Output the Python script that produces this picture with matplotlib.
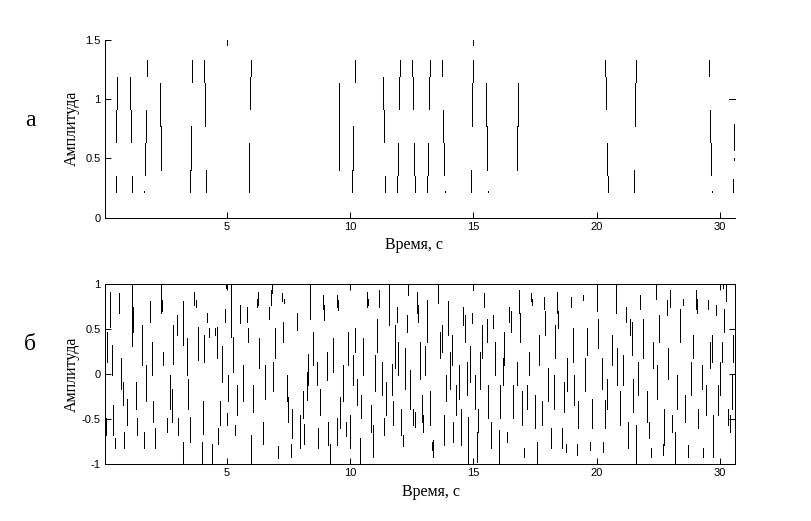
import matplotlib.pyplot as plt
import numpy as np

# top panel: vertical pulse segments (time, low, high)
top_t = [0.50, 0.52, 0.565, 1.09, 1.13, 1.17, 1.66, 1.70, 1.74, 1.78, 2.31, 2.35,
         3.51, 3.54, 3.57, 4.09, 4.13, 4.17, 5.0, 5.88, 5.92, 5.96, 6.0,
         9.53, 9.57, 10.09, 10.13, 10.19, 11.32, 11.37, 11.41,
         11.89, 11.93, 11.97, 12.01, 12.50, 12.54, 12.58, 12.62,
         13.11, 13.15, 13.19, 13.23, 13.72, 13.76, 13.80, 13.84,
         14.92, 14.96, 15.0, 15.0, 15.53, 15.57, 15.61, 16.75, 16.79,
         20.33, 20.37, 20.41, 20.45, 21.53, 21.57, 21.61,
         24.54, 24.59, 24.63, 24.67, 25.54, 25.56, 25.57, 25.59]
top_lo = [0.219, 0.640, 0.916, 0.916, 0.640, 0.219, 0.216, 0.360, 0.640, 1.196, 0.775, 0.402,
          0.219, 0.402, 1.146, 1.146, 0.775, 0.219, 1.455, 0.219, 0.360, 0.916, 1.196,
          0.775, 0.402, 0.219, 0.402, 1.146, 0.916, 0.640, 0.219,
          0.219, 0.360, 0.916, 1.196, 1.196, 0.916, 0.360, 0.219,
          0.219, 0.360, 0.916, 1.196, 1.196, 0.640, 0.360, 0.216,
          0.219, 0.775, 1.146, 1.455, 0.775, 0.402, 0.216, 0.402, 0.775,
          1.196, 0.916, 0.360, 0.219, 0.219, 0.775, 1.146,
          1.196, 0.640, 0.360, 0.216, 0.219, 0.490, 0.570, 0.795]
top_hi = [0.351, 0.907, 1.183, 1.183, 0.907, 0.351, 0.226, 0.627, 0.907, 1.329, 1.132, 0.773,
          0.402, 0.773, 1.329, 1.329, 1.132, 0.402, 1.497, 0.351, 0.627, 1.183, 1.329,
          1.132, 0.773, 0.402, 0.773, 1.329, 1.183, 0.907, 0.351,
          0.351, 0.627, 1.183, 1.329, 1.329, 1.183, 0.627, 0.351,
          0.351, 0.627, 1.183, 1.329, 1.329, 0.907, 0.627, 0.226,
          0.402, 1.132, 1.329, 1.497, 1.132, 0.773, 0.226, 0.773, 1.132,
          1.329, 1.183, 0.627, 0.351, 0.402, 1.132, 1.329,
          1.329, 0.907, 0.627, 0.226, 0.329, 0.500, 0.787, 1.020]

# bottom panel: dense segments (time, low, high)
bot_t = [0.10, 0.16, 0.27, 0.35, 0.40, 0.45, 0.63, 0.70, 0.78, 0.83, 0.94, 1.17, 1.21,
         1.31, 1.35, 1.55, 1.66, 1.72, 1.89, 1.95, 2.02, 2.09, 2.33, 2.37, 2.43, 2.56,
         2.70, 2.77, 2.81, 2.97, 3.04, 3.21, 3.24, 3.37, 3.44, 3.51, 3.68, 3.75, 3.82,
         3.98, 4.02, 4.09, 4.18, 4.28, 4.39, 4.52, 4.59, 4.66, 4.72, 4.79, 4.93, 4.97,
         4.99, 5.06, 5.17, 5.27, 5.35, 5.40, 5.54, 5.67, 5.81, 5.85, 5.98, 6.08, 6.21,
         6.28, 6.32, 6.48, 6.55, 6.71, 6.78, 6.82, 6.89, 6.95, 7.09, 7.23, 7.27, 7.32,
         7.43, 7.50, 7.59, 7.63, 7.83, 7.97, 8.08, 8.14, 8.24, 8.31, 8.37, 8.51, 8.64,
         8.71, 8.78, 8.89, 8.94, 9.05, 9.12, 9.18, 9.32, 9.45, 9.48, 9.52, 9.59, 9.70,
         9.82, 9.93, 9.99, 10.10, 10.20, 10.29, 10.40, 10.43, 10.54, 10.67, 10.71, 10.83,
         10.91, 11.01, 11.08, 11.18, 11.28, 11.37, 11.45, 11.59, 11.68, 11.72, 11.82,
         11.89, 11.95, 12.06, 12.13, 12.22, 12.29, 12.36, 12.43, 12.56, 12.63, 12.70,
         12.77, 12.83, 12.90, 12.97, 13.04, 13.10,
         13.25, 13.31, 13.38, 13.58, 13.65, 13.72, 13.79, 13.89, 13.99, 14.06, 14.12,
         14.19, 14.30, 14.43, 14.50, 14.57, 14.66, 14.73, 14.80, 14.87, 14.96, 15.00,
         15.07, 15.14, 15.20, 15.27, 15.34, 15.45, 15.54, 15.61, 15.70, 15.81, 15.88,
         16.02, 16.08, 16.19, 16.26, 16.35, 16.46, 16.52, 16.62, 16.76, 16.83, 16.89,
         16.96, 17.06, 17.16, 17.27, 17.34, 17.39, 17.50, 17.60, 17.68, 17.77, 17.88,
         17.91, 18.02, 18.14, 18.25, 18.31, 18.38, 18.45, 18.58, 18.68, 18.75, 18.79,
         18.95, 19.03, 19.08, 19.19, 19.26, 19.46, 19.53, 19.60, 19.73, 19.80, 20.00,
         20.07, 20.20, 20.27, 20.35, 20.41, 20.61, 20.79, 20.81, 20.95, 21.08, 21.19,
         21.29, 21.35, 21.42, 21.49, 21.60, 21.69, 21.76, 21.89, 22.03, 22.14, 22.20,
         22.30, 22.41, 22.46, 22.54, 22.68, 22.75, 22.84, 22.91, 22.97, 23.07, 23.18,
         23.25, 23.38, 23.52, 23.58, 23.72, 23.81, 23.92, 24.02, 24.06, 24.12, 24.26,
         24.33, 24.42, 24.53, 24.60, 24.66, 24.73, 24.83, 24.93, 25.00, 25.07, 25.14,
         25.18, 25.25, 25.34, 25.41, 25.48, 25.54, 25.60]
bot_lo = [-0.67, 0.14, 0.53, -0.01, -0.67, -0.82, 0.68, -0.16, -0.34, -0.82, -0.56, 0.31, 0.47,
          -0.38, -0.67, 0.10, -0.82, -0.30, 0.58, -0.01, -0.53, -0.82, 0.68, 0.70, 0.10, -0.64,
          -0.38, -0.53, 0.12, 0.44, -0.67, 0.33, -0.99, -0.01, -0.38, -0.75, 0.77, 0.75, 0.16,
          -0.99, -0.66, 0.14, 0.58, 0.42, -0.99, 0.44, 0.18, -0.77, -0.56, -0.08, 0.58, 0.955,
          -0.56, -0.30, 0.42, 0.03, -0.67, -0.45, 0.57, -0.30, 0.58, 0.36, -0.99, -0.42, 0.75,
          0.77, 0.07, -0.77, -0.27, 0.62, 0.77, 0.90, -0.19, 0.18, -0.93, 0.81, 0.36, 0.79,
          -0.30, -0.53, -0.92, -0.71, 0.49, -0.82, -0.49, -0.77, -0.29, -0.12, 0.62, 0.10, -0.12,
          -0.82, -0.45, 0.73, 0.60, -0.06, -0.79, -0.99, 0.03, 0.75, -0.79, 0.71, -0.60, -0.30,
          -0.69, 0.10, -0.82, -0.12, 0.25, -0.34, -0.99, -0.49, -0.01, 0.75, 0.77, -0.64,
          -0.92, -0.19, 0.25, 0.75, -0.23, -0.67, -0.45, 0.55, -0.23, -0.56, 0.07,
          0.58, -0.01, -0.67, -0.80, -0.16, 0.47, 0.88, -0.38, -0.56, -0.58, 0.68,
          0.58, -0.05, -0.53, -0.64, -0.01, 0.36,
          -0.56, -0.84, -0.92, 0.79, 0.18, 0.25, -0.79, -0.30, 0.44, -0.16, 0.10,
          -0.75, -0.45, -0.27, -0.79, 0.55, 0.36, -0.23, -0.99, -0.08, 0.57, 0.94,
          -0.38, -0.97, -0.64, -0.16, 0.18, 0.75, 0.36, -0.49, -0.82, 0.51, -0.01,
          -0.99, -0.49, -0.12, 0.10, -0.75, 0.58, 0.47, -0.49, -0.12, 0.68, 0.36,
          -0.56, -0.92, -0.38, -0.01, 0.81, 0.77, -0.60, -0.99, 0.10, -0.56, 0.73,
          0.44, -0.30, -0.82, -0.38, 0.18, 0.68, 0.51, -0.82, -0.42, -0.86, -0.19,
          0.75, 0.14, -0.34, -0.90, -0.60, 0.83, -0.19, 0.21, -0.84, -0.60, 0.70,
          0.29, -0.16, -0.86, -0.60, -0.38, 0.10, 0.68, -0.12, -0.56, -0.12, 0.58,
          -0.82, 0.44, 0.21, -0.42, -0.99, -0.23, 0.73, 0.18, -0.53, -0.71, -0.92,
          0.07, 0.84, -0.27, 0.36, -0.90, -0.79, 0.66, -0.05, 0.75, -0.64, -0.99,
          -0.38, 0.36, 0.77, -0.53, -0.92, -0.23, 0.18, 0.73, 0.68, -0.60, -0.16,
          -0.92, -0.45, 0.73, 0.07, 0.14, -0.92, 0.66, -0.45, -0.23, 0.14, 0.955,
          0.47, 0.81, -0.56, -0.64, -0.38, 0.14, 0.33]
bot_hi = [-0.49, 0.47, 0.92, 0.33, -0.34, -0.71, 0.90, 0.18, -0.08, -0.64, -0.27, 1.00, 0.75,
          -0.08, -0.49, 0.55, -0.64, 0.10, 0.81, 0.36, -0.30, -0.60, 0.99, 0.83, 0.25, -0.49,
          -0.01, -0.16, 0.55, 0.66, -0.49, 0.81, -0.75, 0.40, -0.05, -0.47, 0.92, 0.83, 0.53,
          -0.75, -0.30, 0.44, 0.68, 0.51, -0.77, 0.51, 0.53, -0.60, -0.30, 0.31, 0.73, 1.00,
          -0.43, -0.01, 1.00, 0.42, -0.56, -0.12, 0.77, 0.10, 0.75, 0.51, -0.67, -0.12, 0.84,
          0.92, 0.40, -0.53, 0.10, 0.75, 0.94, 1.00, 0.14, 0.51, -0.80, 0.90, 0.58, 0.84,
          -0.01, -0.25, -0.77, -0.38, 0.68, -0.45, -0.19, -0.55, 0.03, 0.23, 1.00, 0.47, 0.14,
          -0.60, -0.16, 0.88, 0.77, 0.25, -0.53, -0.77, 0.40, 0.88, -0.49, 0.83, -0.25, 0.10,
          -0.53, 0.47, -0.45, 0.21, 0.51, -0.05, -0.71, -0.23, 0.40, 0.92, 0.84, -0.34,
          -0.56, 0.21, 0.62, 0.94, 0.14, -0.49, -0.08, 1.00, 0.12, -0.30, 0.55,
          0.75, 0.36, -0.38, -0.67, 0.29, 0.66, 0.99, 0.05, -0.38, -0.42, 0.92,
          0.77, 0.36, -0.23, -0.45, 0.31, 0.83,
          -0.19, -0.75, -0.73, 1.00, 0.47, 0.55, -0.45, -0.01, 0.81, 0.25, 0.44,
          -0.53, -0.12, 0.10, -0.38, 0.75, 0.66, 0.14, -0.47, 0.31, 0.68, 1.00,
          -0.01, -0.64, -0.38, 0.25, 0.55, 0.90, 0.62, -0.12, -0.53, 0.66, 0.36,
          -0.62, -0.12, 0.18, 0.47, -0.64, 0.75, 0.70, -0.12, 0.14, 0.94, 0.68,
          -0.19, -0.82, -0.12, 0.25, 0.90, 0.84, -0.23, -0.75, 0.44, -0.30, 0.86,
          0.70, 0.07, -0.60, -0.01, 0.55, 0.92, 0.70, -0.60, -0.08, -0.77, 0.18,
          0.86, 0.51, -0.01, -0.77, -0.30, 0.88, 0.18, 0.51, -0.75, -0.27, 0.94,
          0.62, 0.18, -0.75, -0.29, -0.05, 0.44, 1.00, 0.29, -0.19, 0.21, 0.75,
          -0.53, 0.62, 0.58, -0.05, -0.56, 0.14, 0.88, 0.62, -0.19, -0.53, -0.82,
          0.36, 1.00, 0.10, 0.66, -0.77, -0.38, 0.83, 0.29, 0.94, -0.45, -0.64,
          -0.01, 0.73, 0.84, -0.23, -0.79, 0.14, 0.44, 0.94, 0.84, -0.38, 0.10,
          -0.82, -0.12, 0.83, 0.36, 0.44, -0.45, 0.77, -0.12, 0.14, 0.36, 1.00,
          0.73, 1.00, -0.38, -0.45, -0.01, 0.44, 0.47]

x_ticks = [5, 10, 15, 20, 25]
x_ticklabels = ['5', '10', '15', '20', '30']

W, H = 812, 521
fig = plt.figure(figsize=(W / 100, H / 100), dpi=100)

tick_font = {'family': 'Liberation Sans', 'size': 8}
lab_font = {'family': 'Liberation Serif', 'size': 11.5}
LW = 0.72  # one pixel at 100 dpi

def px(l, t, r, b):
    return [l / W, 1 - b / H, (r - l) / W, (b - t) / H]

ax1 = fig.add_axes(px(105, 39.7, 735, 217.7))
ax1.vlines(top_t, top_lo, top_hi, colors='k', linewidth=LW, antialiased=False)
ax1.hlines([1.0], 25.37, 25.61, colors='k', linewidth=LW, antialiased=False, clip_on=False)
ax1.set_xlim(0.06, 25.61)
ax1.set_ylim(0, 1.5)
ax1.set_yticks([0, 0.5, 1, 1.5])
ax1.set_yticklabels(['0', '0.5', '1', '1.5'])
ax1.spines['top'].set_visible(False)
ax1.spines['right'].set_visible(False)

ax2 = fig.add_axes(px(105, 284.3, 735, 464.3))
ax2.vlines(bot_t, bot_lo, bot_hi, colors='k', linewidth=LW, antialiased=False)
ax2.set_xlim(0.06, 25.61)
ax2.set_ylim(-1, 1)
ax2.set_yticks([-1, -0.5, 0, 0.5, 1])
ax2.set_yticklabels(['-1', '-0.5', '0', '0.5', '1'])
ax2.tick_params(top=True, right=True)

for ax in (ax1, ax2):
    ax.set_xticks(x_ticks)
    ax.set_xticklabels(x_ticklabels)
    ax.tick_params(direction='in', length=4, width=LW, pad=3)
    for lab in ax.get_xticklabels() + ax.get_yticklabels():
        lab.set_fontfamily(tick_font['family'])
        lab.set_fontsize(tick_font['size'])
    for s in ax.spines.values():
        s.set_linewidth(LW)
        s.set_antialiased(False)
    ax.set_ylabel('Амплитуда', fontdict=lab_font)
    ax.yaxis.set_label_coords(-0.040, 0.5)

ax1.set_xlabel('Время, с', fontdict=lab_font)
ax1.xaxis.set_label_coords((414 - 105) / 630, -0.11)
ax2.set_xlabel('Время, с', fontdict=lab_font)
ax2.xaxis.set_label_coords((431 - 105) / 630, -0.11)

fig.text(30 / W, 1 - 120 / H, 'а', family='Liberation Serif', size=17, ha='center', va='center')
fig.text(30 / W, 1 - 345 / H, 'б', family='Liberation Serif', size=17, ha='center', va='center')

fig.savefig('out.png', dpi=100)
